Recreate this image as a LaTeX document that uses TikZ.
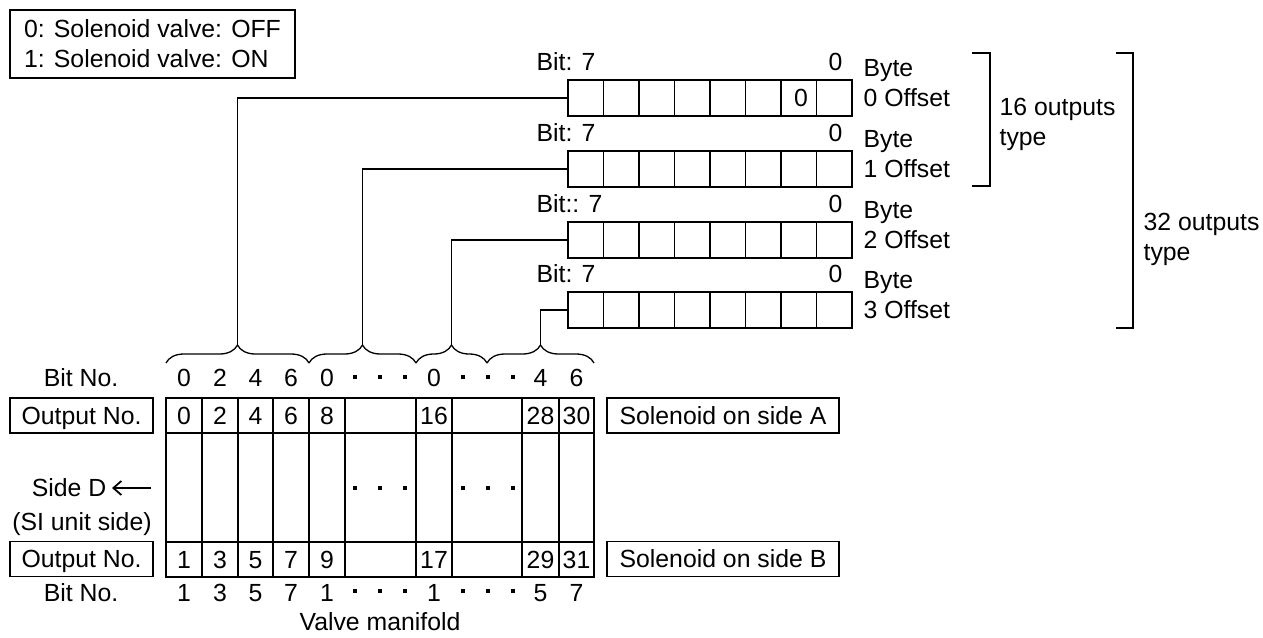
\documentclass[tikz,border=0pt]{standalone}
\usepackage{fontspec}
\setmainfont{Liberation Sans}
\usetikzlibrary{decorations.pathreplacing,arrows.meta}

\tikzset{
    lbl/.style={inner sep=0pt, text height=8.9pt, text depth=0pt},
    txtbox/.style={draw, inner sep=0pt, text height=8.9pt, text depth=0pt, minimum height=17.5pt},
    bytebox/.style={draw, inner sep=0pt, minimum width=142pt, minimum height=18pt},
    brc/.style={decorate, decoration={brace, amplitude=9pt}},
    sidearrow/.style={-{Straight Barb[length=4pt, width=7pt]}, line width=0.9pt, shorten >=2.5pt}
}

\begin{document}
\begin{tikzpicture}[x=0.5pt, y=-0.5pt, line width=0.65pt, every node/.style={font=\fontsize{12.4}{15}\selectfont}]

    \useasboundingbox (0, 0) rectangle (1263, 637);

    \node (legend) [draw, align=left, minimum width=142.5pt, minimum height=34pt] at (152.5, 44) {0: Solenoid valve: OFF\\1: Solenoid valve: ON};

    \node (b0) [bytebox] at (710, 98) {};
    \node (b1) [bytebox] at (710, 169) {};
    \node (b2) [bytebox] at (710, 240) {};
    \node (b3) [bytebox] at (710, 310) {};
    \foreach \y in {80, 151, 222, 292}
        \foreach \k in {1, ..., 7}
            \draw ({568 + 35.5*\k}, \y) -- ++(0, 36);
    \node (z0) [lbl] at (801, 98) {0};

    \node (bit0) [lbl, anchor=west] at (536, 62) {Bit: 7};
    \node (lsb0) [lbl] at (835.5, 62) {0};
    \node (byte0) [lbl, anchor=west] at (863, 68) {Byte};
    \node (off0) [lbl, anchor=west] at (863, 98) {0 Offset};
    \node (bit1) [lbl, anchor=west] at (536, 133) {Bit: 7};
    \node (lsb1) [lbl] at (835.5, 133) {0};
    \node (byte1) [lbl, anchor=west] at (863, 139) {Byte};
    \node (off1) [lbl, anchor=west] at (863, 169) {1 Offset};
    \node (bit2) [lbl, anchor=west] at (536, 204) {Bit:: 7};
    \node (lsb2) [lbl] at (835.5, 204) {0};
    \node (byte2) [lbl, anchor=west] at (863, 210) {Byte};
    \node (off2) [lbl, anchor=west] at (863, 240) {2 Offset};
    \node (bit3) [lbl, anchor=west] at (536, 274) {Bit: 7};
    \node (lsb3) [lbl] at (835.5, 274) {0};
    \node (byte3) [lbl, anchor=west] at (863, 280) {Byte};
    \node (off3) [lbl, anchor=west] at (863, 310) {3 Offset};

    \draw (972, 53) -- (990, 53) -- (990, 186) -- (972, 186);
    \node (t16) [lbl, anchor=west] at (999, 107) {16 outputs};
    \node (t16b) [lbl, anchor=west] at (999, 137) {type};
    \draw (1116, 53) -- (1133, 53) -- (1133, 328) -- (1116, 328);
    \node (t32) [lbl, anchor=west] at (1143, 222) {32 outputs};
    \node (t32b) [lbl, anchor=west] at (1143, 252) {type};

    \draw [brc] (166, 363) -- (309, 363);
    \draw [brc] (309, 363) -- (416, 363);
    \draw [brc] (416, 363) -- (487, 363);
    \draw [brc] (487, 363) -- (594, 363);
    \coordinate (t0) at (237.5, 345);
    \coordinate (t1) at (362.5, 345);
    \coordinate (t2) at (451.5, 345);
    \coordinate (t3) at (540.5, 345);

    \draw (b0.west) -| (t0);
    \draw (b1.west) -| (t1);
    \draw (b2.west) -| (t2);
    \draw (b3.west) -| (t3);

    \node (bitA) [lbl] at (81, 378) {Bit No.};
    \foreach \x/\n [count=\i] in {184/0, 220/2, 255.5/4, 291/6, 327/0, 434/0, 540.5/4, 576.5/6}
        \node (ba\i) [lbl] at (\x, 378) {\n};
    \node (bitB) [lbl] at (81, 593) {Bit No.};
    \foreach \x/\n [count=\i] in {184/1, 220/3, 255.5/5, 291/7, 327/1, 434/1, 540.5/5, 576.5/7}
        \node (bb\i) [lbl] at (\x, 593) {\n};

    \draw (166, 398) rectangle (594, 577);
    \draw (166, 433) -- (594, 433);
    \draw (166, 542) -- (594, 542);
    \foreach \x in {202, 238, 273, 309, 345, 416, 452, 522, 559}
        \draw (\x, 398) -- (\x, 577);
    \foreach \x/\n [count=\i] in {184/0, 220/2, 255.5/4, 291/6, 327/8, 434/16, 540.5/28, 576.5/30}
        \node (oa\i) [lbl] at (\x, 415.5) {\n};
    \foreach \x/\n [count=\i] in {184/1, 220/3, 255.5/5, 291/7, 327/9, 434/17, 540.5/29, 576.5/31}
        \node (ob\i) [lbl] at (\x, 559.5) {\n};
    \foreach \y in {377, 488, 591}
        \foreach \x in {355, 380, 405, 463, 488, 513}
            \fill (\x-2, \y-2) rectangle ++(4, 4);

    \node (outA) [txtbox, minimum width=71.5pt] at (81.5, 415.5) {Output No.};
    \node (outB) [txtbox, minimum width=71.5pt] at (81.5, 559) {Output No.};
    \node (solA) [txtbox, minimum width=116pt] at (723, 415.5) {Solenoid on side A};
    \node (solB) [txtbox, minimum width=116pt] at (723, 559) {Solenoid on side B};

    \node (sideD) [lbl, anchor=east] at (107, 488) {Side D};
    \coordinate (dEnd) at (151, 488);
    \draw [sidearrow] (dEnd) -- (sideD);
    \node (siunit) [lbl] at (82, 522) {(SI unit side)};
    \node (valve) [lbl] at (380, 622) {Valve manifold};

\end{tikzpicture}
\end{document}
